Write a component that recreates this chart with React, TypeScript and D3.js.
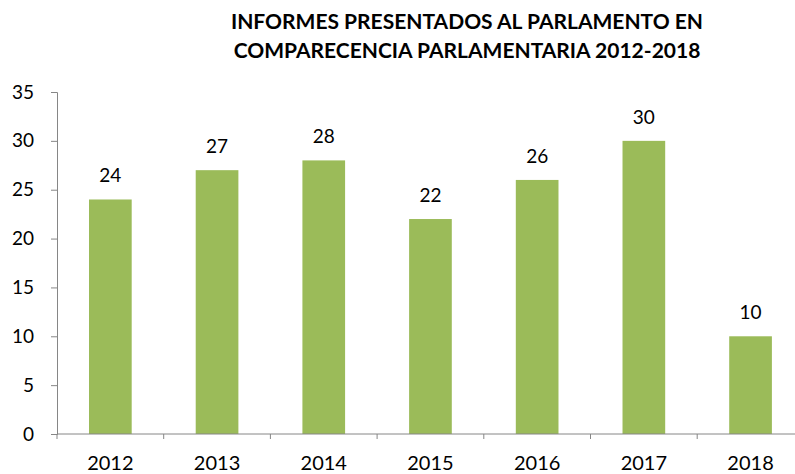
import React, { useRef, useEffect } from 'react';
import * as d3 from 'd3';

const years = ['2012', '2013', '2014', '2015', '2016', '2017', '2018'];
const informes = [24, 27, 28, 22, 26, 30, 10];
const yTicks = [0, 5, 10, 15, 20, 25, 30, 35];
const titleLines = [
  'INFORMES PRESENTADOS AL PARLAMENTO EN',
  'COMPARECENCIA PARLAMENTARIA 2012-2018',
];

const width = 795;
const height = 474;
const font = 'Lato, "Open Sans", sans-serif';

const App = () => {
  const svgRef = useRef<SVGSVGElement | null>(null);

  useEffect(() => {
    const svg = d3.select(svgRef.current);
    svg.selectAll('*').remove();

    const left = 57;
    const step = 106.7;
    const x = d3.scaleBand<string>()
      .domain(years)
      .range([left, left + step * years.length])
      .paddingInner(0.6)
      .paddingOuter(0.3);

    const y = d3.scaleLinear().domain([0, 35]).range([434, 92]);
    const axisColor = '#868686';

    // title
    svg.append('g')
      .selectAll('text')
      .data(titleLines)
      .enter()
      .append('text')
      .attr('x', 467)
      .attr('y', (d, i) => 29 + i * 29)
      .attr('text-anchor', 'middle')
      .attr('font-family', font)
      .attr('font-weight', 'bold')
      .attr('font-size', 21)
      .attr('fill', '#000')
      .text(d => d);

    // bars
    svg.append('g')
      .selectAll('rect')
      .data(informes)
      .enter()
      .append('rect')
      .attr('x', (d, i) => x(years[i]) as number)
      .attr('y', d => y(d))
      .attr('width', x.bandwidth())
      .attr('height', d => y(0) - y(d))
      .attr('fill', '#9BBB59');

    // value labels
    svg.append('g')
      .selectAll('text')
      .data(informes)
      .enter()
      .append('text')
      .attr('x', (d, i) => (x(years[i]) as number) + x.bandwidth() / 2)
      .attr('y', d => y(d) - 17)
      .attr('text-anchor', 'middle')
      .attr('font-family', font)
      .attr('font-size', 19)
      .attr('fill', '#000')
      .text(d => d);

    // y axis
    const yAxis = d3.axisLeft(y).tickValues(yTicks).tickSize(6).tickPadding(17);
    const gy = svg.append('g')
      .attr('transform', `translate(${left},0)`)
      .call(yAxis);
    gy.select('.domain').attr('stroke', axisColor);
    gy.selectAll('.tick line').attr('stroke', axisColor);
    gy.selectAll('.tick text')
      .attr('font-family', font)
      .attr('font-size', 19)
      .attr('fill', '#000');

    // x axis line + boundary ticks
    const gx = svg.append('g');
    gx.append('line')
      .attr('x1', left)
      .attr('x2', width)
      .attr('y1', y(0))
      .attr('y2', y(0))
      .attr('stroke', axisColor);
    const bounds = years.map(d => (x(d) as number) - x.step() * x.paddingInner() / 2);
    gx.selectAll('line.tk')
      .data(bounds)
      .enter()
      .append('line')
      .attr('class', 'tk')
      .attr('x1', d => d)
      .attr('x2', d => d)
      .attr('y1', y(0))
      .attr('y2', y(0) + 5)
      .attr('stroke', axisColor);
    gx.selectAll('text')
      .data(years)
      .enter()
      .append('text')
      .attr('x', d => (x(d) as number) + x.bandwidth() / 2)
      .attr('y', 470)
      .attr('text-anchor', 'middle')
      .attr('font-family', font)
      .attr('font-size', 20)
      .attr('fill', '#000')
      .text(d => d);
  }, []);

  return (
    <svg
      ref={svgRef}
      width={width}
      height={height}
      style={{ position: 'absolute', left: 0, top: 0, background: '#fff' }}
    />
  );
};

export default App;
